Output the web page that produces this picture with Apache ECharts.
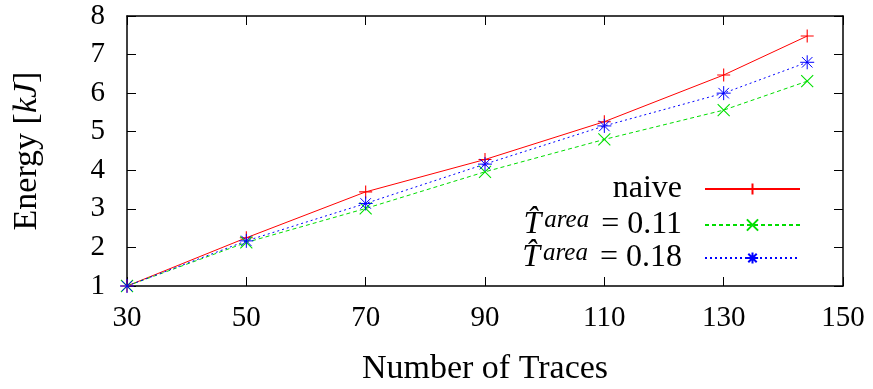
<!DOCTYPE html>
<html>
<head>
<meta charset="utf-8">
<script src="https://cdn.jsdelivr.net/npm/echarts@6/dist/echarts.min.js"></script>
<style>
  html, body { margin: 0; padding: 0; background: #fff; }
  #chart { width: 873px; height: 389px; }
</style>
</head>
<body>
<div id="chart"></div>
<script>
// number of traces (x)
var traces = [30, 50, 70, 90, 110, 130, 144]
// energy in kJ
var naive = [1, 2.25, 3.44, 4.28, 5.26, 6.47, 7.48]
var tArea011 = [1, 2.13, 3.01, 3.96, 4.80, 5.56, 6.31]
var tArea018 = [1, 2.17, 3.14, 4.16, 5.15, 6.00, 6.80]
// legend labels
var seriesNames = ['naive', 'area011', 'area018']
var legendTexts = {
  naive: '{n|naive}',
  area011: '{t|T\u0302}{s|area}{e|=}{n|0.11}',
  area018: '{t|T\u0302}{s|area}{e|=}{n|0.18}'
}

var FONT = 'Liberation Serif'

function pairs(ys) {
  return traces.map(function (x, i) { return [x, ys[i]] })
}

// gnuplot-like point markers
var plusSym = 'path://M0,-1L0,1M-1,0L1,0'
var crossSym = 'path://M-1,-1L1,1M-1,1L1,-1'
var starSym = 'path://M0,-1L0,1M-1,0L1,0M-0.75,-0.75L0.75,0.75M-0.75,0.75L0.75,-0.75'

var legendRich = {
  n: { fontFamily: FONT, fontSize: 32, lineHeight: 34, color: '#000' },
  e: { fontFamily: FONT, fontSize: 32, lineHeight: 34, color: '#000', padding: [0, 8, 0, 12] },
  t: { fontFamily: FONT, fontSize: 32, lineHeight: 34, fontStyle: 'italic', color: '#000', padding: [0, 3, 0, 0] },
  s: { fontFamily: FONT, fontSize: 25, lineHeight: 14, fontStyle: 'italic', color: '#000', verticalAlign: 'top' }
}

function makeLegend(name, top) {
  return {
    data: [name],
    right: 67,
    top: top,
    align: 'right',
    itemWidth: 95,
    itemHeight: 14,
    formatter: function (n) { return legendTexts[n] },
    textStyle: { rich: legendRich, padding: [0, 18, 0, 0] }
  }
}

var chart = echarts.init(document.getElementById('chart'))
chart.setOption({
  animation: false,
  grid: { left: 127, right: 30, top: 16, bottom: 103, outerBoundsMode: 'none' },
  legend: [
    makeLegend('naive', 168),
    makeLegend('area011', 203),
    makeLegend('area018', 236)
  ],
  xAxis: [
    {
      type: 'value',
      min: 30,
      max: 150,
      interval: 20,
      name: 'Number of Traces',
      nameLocation: 'middle',
      nameGap: 66,
      nameTextStyle: { fontFamily: FONT, fontSize: 34, color: '#000' },
      axisLine: { lineStyle: { color: '#000', width: 1.5 } },
      axisTick: { inside: true, length: 9, lineStyle: { color: '#000' } },
      axisLabel: { fontFamily: FONT, fontSize: 29, color: '#000', margin: 18 },
      splitLine: { show: false }
    },
    {
      type: 'value',
      position: 'top',
      min: 30,
      max: 150,
      interval: 20,
      axisLine: { lineStyle: { color: '#000', width: 1.5 } },
      axisTick: { inside: true, length: 9, lineStyle: { color: '#000' } },
      axisLabel: { show: false },
      splitLine: { show: false }
    }
  ],
  yAxis: [
    {
      type: 'value',
      min: 1,
      max: 8,
      interval: 1,
      name: '{a|Energy [}{b|kJ}{a|]}',
      nameLocation: 'middle',
      nameGap: 83,
      nameTextStyle: {
        rich: {
          a: { fontFamily: FONT, fontSize: 34, color: '#000' },
          b: { fontFamily: FONT, fontSize: 34, fontStyle: 'italic', color: '#000' }
        }
      },
      axisLine: { show: true, lineStyle: { color: '#000', width: 1.5 } },
      axisTick: { show: true, inside: true, length: 9, lineStyle: { color: '#000' } },
      axisLabel: { fontFamily: FONT, fontSize: 29, color: '#000', margin: 22 },
      splitLine: { show: false }
    },
    {
      type: 'value',
      position: 'right',
      min: 1,
      max: 8,
      interval: 1,
      axisLine: { show: true, lineStyle: { color: '#000', width: 1.5 } },
      axisTick: { show: true, inside: true, length: 9, lineStyle: { color: '#000' } },
      axisLabel: { show: false },
      splitLine: { show: false }
    }
  ],
  series: [
    {
      name: seriesNames[0],
      type: 'line',
      data: pairs(naive),
      color: '#ff0000',
      symbol: plusSym,
      symbolSize: 13,
      lineStyle: { color: '#ff0000', width: 1 },
      itemStyle: { color: '#ff0000', borderColor: '#ff0000', borderWidth: 1.1 }
    },
    {
      name: seriesNames[1],
      type: 'line',
      data: pairs(tArea011),
      color: '#00dd00',
      symbol: crossSym,
      symbolSize: 12,
      lineStyle: { color: '#00dd00', width: 1, type: [4, 3] },
      itemStyle: { color: '#00dd00', borderColor: '#00e000', borderWidth: 1.1 }
    },
    {
      name: seriesNames[2],
      type: 'line',
      data: pairs(tArea018),
      color: '#0000ff',
      symbol: starSym,
      symbolSize: 14,
      lineStyle: { color: '#0000ff', width: 1, type: [2, 3] },
      itemStyle: { color: '#0000ff', borderColor: '#0000ff', borderWidth: 1 }
    }
  ]
})
</script>
</body>
</html>
